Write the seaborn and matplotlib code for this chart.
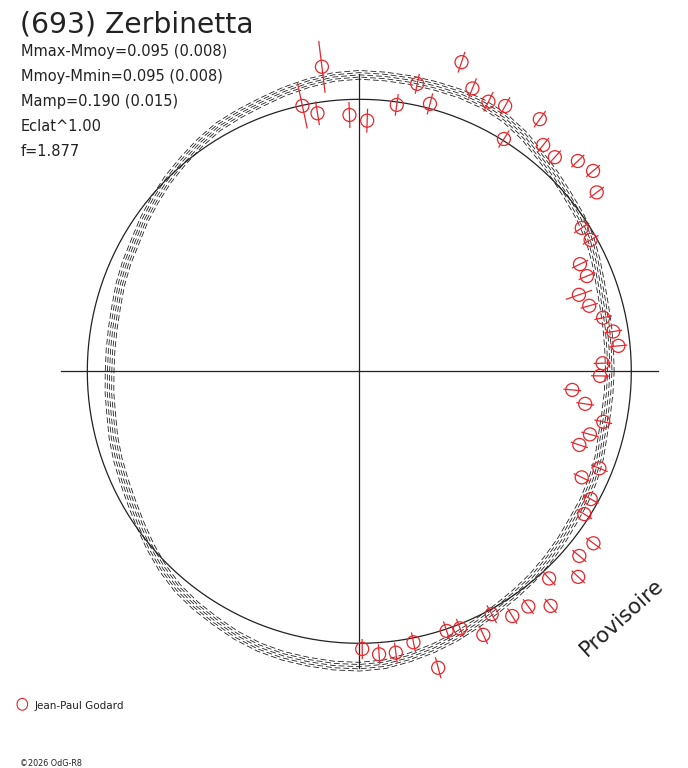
import numpy as np
import matplotlib
matplotlib.use("Agg")
import matplotlib.pyplot as plt
import seaborn as sns
import pandas as pd
from matplotlib.collections import LineCollection

# observations: polar angle (deg, counter-clockwise from +x), relative flux, error
obs_angle = [102.1, 99.2, 97.0, 92.2, 88.2, 82.0, 78.6, 75.2, 71.7, 68.2,
             64.4, 61.2, 58.1, 54.4, 50.9, 47.6, 43.9, 40.6, 37.0, 32.8,
             29.6, 25.9, 22.7, 19.2, 15.9, 12.4, 8.9, 5.6, 1.9, -1.1,
             -5.0, -8.2, -11.7, -15.3, -18.5, -22.0, -25.5, -28.9, -32.4, -36.3,
             -40.0, -43.2, -47.5, -50.8, -54.3, -58.0, -61.4, -64.8, -68.6, -71.4,
             -75.1, -78.7, -82.6, -86.0, -89.4]
obs_flux = [0.998, 0.961, 1.128, 0.943, 0.922,
            0.989, 1.078, 1.017, 1.197, 1.120,
            1.099, 1.113, 1.006, 1.140, 1.072,
            1.066, 1.115, 1.132, 1.093, 0.973,
            0.978, 0.902, 0.907, 0.855, 0.879,
            0.918, 0.945, 0.957, 0.895, 0.885,
            0.786, 0.839, 0.916, 0.879, 0.853,
            0.952, 0.906, 0.972, 0.980, 1.068,
            1.056, 1.104, 1.033, 1.113, 1.065,
            1.061, 1.017, 1.071, 1.015, 1.007,
            1.128, 1.016, 1.043, 1.043, 1.021]
obs_err = [0.085, 0.044, 0.096, 0.048, 0.044,
           0.040, 0.037, 0.040, 0.040, 0.040,
           0.040, 0.037, 0.037, 0.037, 0.033,
           0.033, 0.033, 0.033, 0.033, 0.033,
           0.033, 0.033, 0.033, 0.051, 0.033,
           0.033, 0.033, 0.033, 0.033, 0.033,
           0.033, 0.033, 0.033, 0.033, 0.033,
           0.033, 0.033, 0.033, 0.033, 0.033,
           0.033, 0.033, 0.033, 0.033, 0.033,
           0.033, 0.037, 0.037, 0.037, 0.037,
           0.040, 0.037, 0.037, 0.037, 0.037]

# fitted lightcurve, read every 5 deg
fit_angle = list(range(0, 360, 5))
fit_flux = [0.921, 0.922, 0.926, 0.932, 0.943, 0.960, 0.978, 0.991, 1.002,
            1.018, 1.035, 1.057, 1.074, 1.083, 1.086, 1.086, 1.087, 1.088,
            1.090, 1.086, 1.076, 1.065, 1.053, 1.045, 1.038, 1.024, 1.009,
            0.996, 0.981, 0.967, 0.952, 0.944, 0.935, 0.925, 0.920, 0.918,
            0.918, 0.922, 0.926, 0.936, 0.945, 0.954, 0.966, 0.983, 1.003,
            1.023, 1.040, 1.051, 1.060, 1.071, 1.079, 1.083, 1.084, 1.086,
            1.086, 1.081, 1.068, 1.054, 1.039, 1.023, 1.009, 0.999, 0.990,
            0.979, 0.969, 0.959, 0.954, 0.947, 0.938, 0.926, 0.921, 0.920]
fit_spread = [-0.016, -0.008, 0.0, 0.008, 0.016]
mean_level = 1.0

title = "(693) Zerbinetta"
info_lines = ["Mmax-Mmoy=0.095 (0.008)", "Mmoy-Mmin=0.095 (0.008)",
              "Mamp=0.190 (0.015)", "Eclat^1.00", "f=1.877"]
observer = "Jean-Paul Godard"
stamp = "\u00a92026 OdG-R8"
watermark = "Provisoire"

plt.rcParams["font.family"] = ["DejaVu Sans"]
ink = "#222222"
red = "#e8262b"

W, H = 688, 768
cx, cy = 359.3, 371.3
ppu = 272.0

fig = plt.figure(figsize=(W / 100, H / 100), dpi=100)
ax = fig.add_axes([0, 0, 1, 1])
ax.set_xlim(-cx / ppu, (W - cx) / ppu)
ax.set_ylim(-(H - cy) / ppu, cy / ppu)
ax.axis("off")

# axes cross
ax.plot([-1.098, 1.098], [0, 0], color=ink, lw=0.9)
ax.plot([0, 0], [-1.092, 1.092], color=ink, lw=0.9)

# mean level circle
t = np.radians(np.arange(0, 361, 1))
circ = pd.DataFrame({"x": mean_level * np.cos(t), "y": mean_level * np.sin(t)})
sns.lineplot(data=circ, x="x", y="y", sort=False, estimator=None, color=ink, lw=0.9, ax=ax)

# fit curves
fa = np.radians(fit_angle + [fit_angle[0]])
ff = np.array(fit_flux + [fit_flux[0]])
for k, d in enumerate(fit_spread):
    r = ff + d
    dfc = pd.DataFrame({"x": r * np.cos(fa), "y": r * np.sin(fa)})
    sns.lineplot(data=dfc, x="x", y="y", sort=False, estimator=None, color=ink,
                 lw=0.6, linestyle=(k * 3.1, (7, 3.5)), ax=ax)

# observations
obs = pd.DataFrame({"ang": obs_angle, "flux": obs_flux, "err": obs_err})
a = np.radians(obs["ang"])
obs["x"] = obs["flux"] * np.cos(a)
obs["y"] = obs["flux"] * np.sin(a)
lo = obs["flux"] - obs["err"]
hi = obs["flux"] + obs["err"]
segs = [[(l * np.cos(q), l * np.sin(q)), (h * np.cos(q), h * np.sin(q))]
        for l, h, q in zip(lo, hi, a)]
ax.add_collection(LineCollection(segs, colors=red, linewidths=0.9))
sns.scatterplot(data=obs, x="x", y="y", marker="o", s=88, facecolor="none",
                edgecolor=red, linewidth=0.9, ax=ax, zorder=5)

# texts
fig.text(20.5 / W, 1 - 32.5 / H, title, fontsize=20.3, color=ink, va="baseline")
for i, line in enumerate(info_lines):
    fig.text(20.7 / W, 1 - (56 + 24.9 * i) / H, line, fontsize=10.5,
             color=ink, va="baseline")

fig.text(587 / W, 1 - 657 / H, watermark, fontsize=15.5, color=ink, rotation=42,
         rotation_mode="anchor", ha="left", va="baseline")

fig.add_artist(matplotlib.patches.Circle((22.3 / W, 1 - 704.3 / H), 5.3 / W,
                                         transform=fig.transFigure, fill=False,
                                         edgecolor=red, lw=0.8))
fig.text(35 / W, 1 - 709 / H, observer, fontsize=7.5, color=ink, va="baseline")
fig.text(20 / W, 1 - 766 / H, stamp, fontsize=5.8, color=ink, va="baseline")

ax.set_xlabel("")
ax.set_ylabel("")
fig.savefig("out.png", dpi=100)
